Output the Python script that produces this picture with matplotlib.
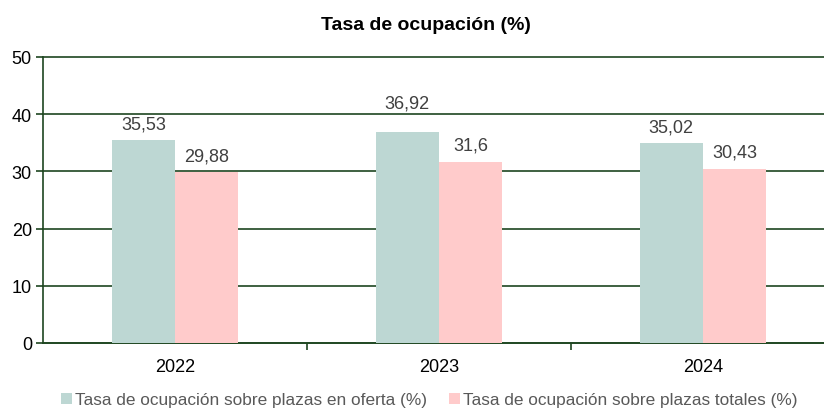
import matplotlib
matplotlib.use("Agg")
import matplotlib.pyplot as plt
import numpy as np

plt.rcParams['font.family'] = ['Liberation Sans', 'DejaVu Sans']

years = ["2022", "2023", "2024"]
oferta = [35.53, 36.92, 35.02]
totales = [29.88, 31.6, 30.43]
series_names = ["Tasa de ocupación sobre plazas en oferta (%)",
                "Tasa de ocupación sobre plazas totales (%)"]
title = "Tasa de ocupación (%)"

c1 = "#BDD7D3"
c2 = "#FFCBCB"
axis_c = "#1E4620"
lab_c = "#404040"

fig = plt.figure(figsize=(8.24, 4.10), dpi=100)
ax = fig.add_axes([43/824, 66/410, 792/824, 286/410])

x = np.arange(len(years))
w = 0.24
b1 = ax.bar(x - w/2, oferta, w, color=c1, label=series_names[0], zorder=3)
b2 = ax.bar(x + w/2, totales, w, color=c2, label=series_names[1], zorder=3)

def fmt(v):
    s = f"{v:.2f}".rstrip("0").rstrip(".")
    return s.replace(".", ",")

# label offsets in points (the 2023 "oferta" label sits higher in the original)
off1 = [5.5, 14.5, 5.5]
off2 = [5.5, 6.0, 6.0]
for bars, vals, offs in ((b1, oferta, off1), (b2, totales, off2)):
    for r, v, o in zip(bars, vals, offs):
        ax.annotate(fmt(v), (r.get_x() + r.get_width()/2, v), xytext=(0, o),
                    textcoords="offset points", ha="center", va="bottom",
                    fontsize=13, color=lab_c)

ax.set_xlim(-0.5, 2.5)
ax.set_ylim(0, 50)
ax.set_yticks([0, 10, 20, 30, 40, 50])
ax.yaxis.grid(True, color=axis_c, linewidth=1.2, zorder=0)
ax.set_axisbelow(True)
ax.set_xticks(x)
ax.set_xticklabels(years)
ax.set_xticks([0.5, 1.5], minor=True)
ax.tick_params(axis='x', which='major', length=0, pad=11, labelsize=13, labelcolor="#000000")
ax.tick_params(axis='x', which='minor', length=5, color=axis_c, width=1.2)
ax.tick_params(axis='y', length=5, color=axis_c, width=1.2, labelsize=13, pad=3)
for s in ("top", "right"):
    ax.spines[s].set_visible(False)
for s in ("left", "bottom"):
    ax.spines[s].set_color(axis_c)
    ax.spines[s].set_linewidth(1.2)

fig.suptitle(title, x=425.5/824, y=1 - 25/410, va="center", fontsize=14, fontweight="bold")

leg = fig.legend(handles=[b1, b2], labels=series_names, loc="center",
                 bbox_to_anchor=(429.5/824, 1 - 401/410), ncol=2, frameon=False,
                 fontsize=12.4, handlelength=0.6, handleheight=0.6,
                 handletextpad=0.2, columnspacing=1.3, labelcolor="#595959")

fig.canvas.draw()
for gl in ax.get_ygridlines():
    gl.set_clip_on(False)

fig.savefig("out.png", dpi=100)
